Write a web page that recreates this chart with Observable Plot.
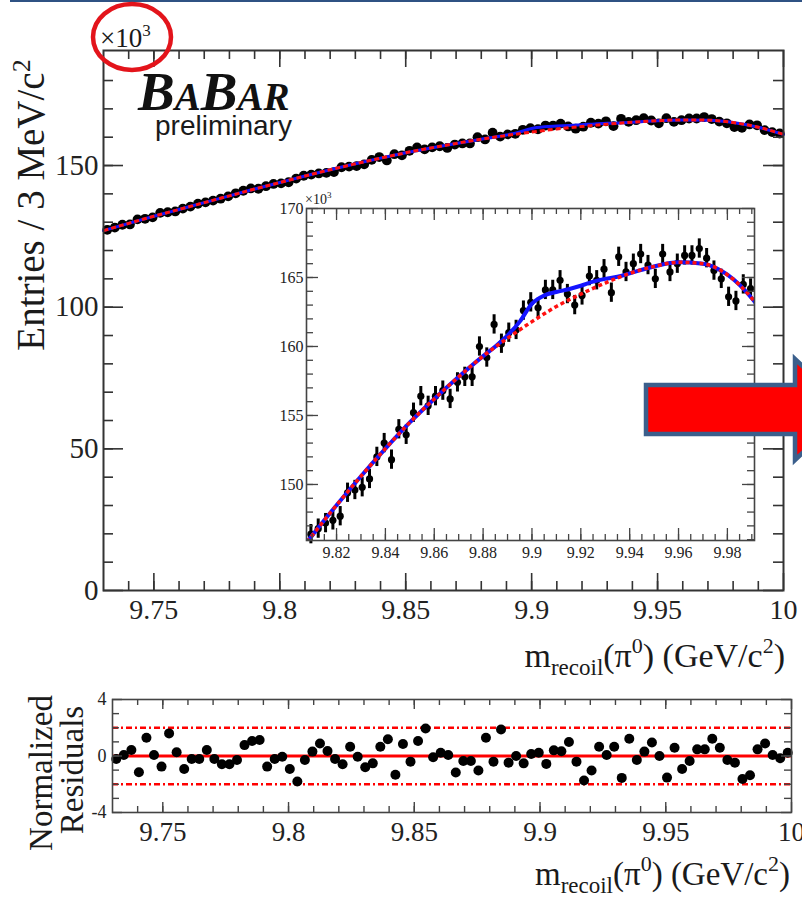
<!DOCTYPE html>
<html><head><meta charset="utf-8">
<script src="https://cdn.jsdelivr.net/npm/d3@7"></script>
<script src="https://cdn.jsdelivr.net/npm/@observablehq/plot@0.6"></script>
<style>
html,body{margin:0;padding:0;background:#fff;}
#wrap{position:relative;width:802px;height:901px;overflow:hidden;background:#fff;}
#wrap > svg{position:absolute;left:0;top:0;max-width:none;}
</style></head><body><div id="wrap"></div>
<script>
// ---- data (entries in units of 10^3 per 3 MeV/c^2 bin) ----
const binStart = 9.73, binWidth = 0.003;
const entries = [
  127.3, 128.1, 129.1, 129.2, 131.0, 131.2, 131.7, 133.3, 133.5, 133.8,
  134.8, 135.5, 136.5, 137.0, 137.6, 138.3, 139.1, 140.2, 141.1, 141.9,
  141.8, 142.7, 143.5, 143.7, 144.1, 145.4, 146.4, 146.8, 147.2, 147.4,
  147.7, 149.4, 149.6, 149.8, 150.4, 152.0, 153.0, 151.8, 154.0, 153.6,
  155.2, 156.4, 155.7, 156.4, 156.8, 156.2, 157.4, 157.8, 157.8, 160.0,
  159.2, 161.6, 160.2, 161.0, 161.2, 162.6, 163.2, 162.8, 164.1, 164.1,
  164.8, 163.8, 163.0, 163.7, 165.1, 164.8, 165.6, 163.9, 166.5, 165.4,
  166.0, 166.7, 165.9, 164.9, 166.7, 165.4, 166.0, 166.6, 166.6, 167.1,
  166.4, 165.5, 164.9, 163.6, 163.3, 164.5, 164.2, 162.5, 161.8, 161.3
];
const residuals = [
  -0.21, 0.07, 0.42, -1.15, 1.29, 0.07, -0.75, 1.60, 0.26, -0.92,
  -0.21, -0.21, 0.42, -0.21, -0.59, -0.59, -0.28, 0.77, 1.06, 1.13,
  -0.75, -0.21, -0.05, -0.92, -1.81, -0.28, 0.31, 0.89, 0.35, -0.21,
  -0.59, 0.66, -0.05, -0.80, -0.52, 0.66, 1.18, -1.33, 0.85, -0.40,
  1.06, 1.95, -0.09, 0.23, 0.07, -1.17, -0.35, -0.35, -1.03, 1.29,
  -0.40, 1.88, -0.47, 0.00, -0.52, 0.14, 0.23, -0.56, 0.40, 0.33,
  0.99, -0.40, -1.74, -1.03, 0.66, 0.07, 0.66, -1.55, 1.22, -0.28,
  0.31, 0.96, 0.00, -1.53, 0.59, -0.92, -0.35, 0.47, 0.47, 1.22,
  0.59, -0.28, -0.47, -1.63, -1.36, 0.47, 0.89, 0.07, -0.16, 0.23
];
const binError = 0.7;
// background fit (red dashed)
const fitBgMass = [9.73, 9.74, 9.75, 9.76, 9.77, 9.78, 9.79, 9.80, 9.81, 9.82, 9.83, 9.84, 9.85, 9.86,
  9.87, 9.88, 9.89, 9.90, 9.91, 9.92, 9.93, 9.94, 9.95, 9.96, 9.97, 9.98, 9.99, 10.0];
const fitBg = [127.0, 129.6, 132.1, 134.5, 136.9, 139.3, 141.7, 144.0, 146.3, 148.5, 150.6, 152.6, 154.5, 156.2,
  157.8, 159.3, 160.6, 161.8, 162.9, 163.8, 164.6, 165.3, 165.8, 166.1, 166.0, 165.2, 163.5, 161.0];
// total fit (blue) where it differs from background
const fitSigMass = [9.88, 9.885, 9.89, 9.895, 9.90, 9.905, 9.91, 9.915, 9.92, 9.925, 9.93, 9.935];
const fitTotalSig = [159.3, 160.0, 160.8, 161.8, 163.1, 163.7, 163.95, 164.15, 164.4, 164.7, 164.9, 165.05];
// tick labels
const mainXTicks = [9.75, 9.8, 9.85, 9.9, 9.95, 10];
const mainYTicks = [0, 50, 100, 150];
const insetXTicks = [9.82, 9.84, 9.86, 9.88, 9.9, 9.92, 9.94, 9.96, 9.98];
const insetYTicks = [150, 155, 160, 165, 170];
const resYTicks = [-4, 0, 4];
const resBands = [-2, 2];

// ---- derived tables ----
const bins = entries.map((v, k) => ({m: binStart + binWidth * (k + 0.5), v, r: residuals[k]}));
const bgRows = fitBgMass.map((m, i) => ({m, v: fitBg[i]}));
const lo = fitSigMass[0] - 1e-9, hi = fitSigMass[fitSigMass.length - 1] + 1e-9;
const totRows = bgRows.filter(d => d.m < lo || d.m > hi)
  .concat(fitSigMass.map((m, i) => ({m, v: fitTotalSig[i]})))
  .sort((a, b) => a.m - b.m);

const F = "Liberation Serif, 'Times New Roman', serif";
const fmt = d => String(d);

function frameTicks({xd, yd, W, H, xMaj, xMin, yMaj, yMin, xMajL, xMinL, yMajL, yMinL, stroke = "#333", sw = 1.5}) {
  const py = (yd[1] - yd[0]) / H, px = (xd[1] - xd[0]) / W;
  const out = [];
  for (const [arr, L] of [[xMin, xMinL], [xMaj, xMajL]]) {
    out.push(Plot.ruleX(arr, {x: d => d, y1: () => yd[0], y2: () => yd[0] + L * py, stroke, strokeWidth: sw}));
    out.push(Plot.ruleX(arr, {x: d => d, y1: () => yd[1], y2: () => yd[1] - L * py, stroke, strokeWidth: sw}));
  }
  for (const [arr, L] of [[yMin, yMinL], [yMaj, yMajL]]) {
    out.push(Plot.ruleY(arr, {y: d => d, x1: () => xd[0], x2: () => xd[0] + L * px, stroke, strokeWidth: sw}));
    out.push(Plot.ruleY(arr, {y: d => d, x1: () => xd[1], x2: () => xd[1] - L * px, stroke, strokeWidth: sw}));
  }
  return out;
}

const wrap = document.getElementById("wrap");
const W0 = 802, H0 = 901;

// ---- main plot ----
const mX = [9.73, 10.0], mY = [0, 190.6];
const mainPlot = Plot.plot({
  width: W0, height: H0, marginLeft: 103, marginRight: 19, marginTop: 50, marginBottom: 311,
  x: {domain: mX}, y: {domain: mY},
  style: {background: "transparent", color: "#222", fontFamily: F},
  marks: [
    Plot.dot(bins, {x: "m", y: "v", r: 4.9, fill: "#000", stroke: "none"}),
    Plot.line(totRows, {x: "m", y: "v", stroke: "#1414ff", strokeWidth: 3, curve: "monotone-x"}),
    Plot.line(bgRows, {x: "m", y: "v", stroke: "#ff1010", strokeWidth: 3, strokeDasharray: "5,3", strokeLinecap: "butt", curve: "monotone-x"}),
    ...frameTicks({xd: mX, yd: mY, W: 680, H: 540,
      xMaj: mainXTicks, xMin: d3.range(9.74, 9.995, 0.01), yMaj: mainYTicks, yMin: d3.range(10, 185, 10),
      xMajL: 17, xMinL: 9, yMajL: 20, yMinL: 10, stroke: "#333", sw: 1.6}),
    Plot.frame({stroke: "#333", strokeWidth: 2}),
    Plot.axisX({ticks: mainXTicks, tickSize: 0, tickPadding: 9, tickFormat: fmt, fontSize: 28, fontFamily: F, label: null}),
    Plot.axisY({ticks: mainYTicks, tickSize: 0, tickPadding: 5, tickFormat: fmt, fontSize: 29, fontFamily: F, label: null})
  ]
});
wrap.appendChild(mainPlot);

// ---- inset ----
const iX = [9.8077, 9.9911], iY = [145.94, 170];
const insetBins = bins.filter(d => d.m > iX[0] && d.m < iX[1]);
const insetPlot = Plot.plot({
  width: W0, height: H0, marginLeft: 306, marginRight: 48, marginTop: 208, marginBottom: 361,
  x: {domain: iX}, y: {domain: iY},
  style: {background: "transparent", color: "#222", fontFamily: F},
  marks: [
    Plot.ruleX(insetBins, {x: "m", y1: d => d.v - binError, y2: d => d.v + binError, stroke: "#000", strokeWidth: 3}),
    Plot.dot(insetBins, {x: "m", y: "v", r: 3.6, fill: "#000", stroke: "none"}),
    Plot.line(totRows, {x: "m", y: "v", stroke: "#1414ff", strokeWidth: 4, curve: "monotone-x", clip: true}),
    Plot.line(bgRows, {x: "m", y: "v", stroke: "#ff1010", strokeWidth: 3.5, strokeDasharray: "4,3", strokeLinecap: "butt", curve: "monotone-x", clip: true}),
    ...frameTicks({xd: iX, yd: iY, W: 448, H: 332,
      xMaj: insetXTicks, xMin: d3.range(9.81, 9.9905, 0.005), yMaj: insetYTicks, yMin: d3.range(146, 170, 1),
      xMajL: 12, xMinL: 6, yMajL: 12, yMinL: 7, stroke: "#444", sw: 1.3}),
    Plot.frame({stroke: "#444", strokeWidth: 1.6}),
    Plot.axisX({ticks: insetXTicks, tickSize: 0, tickPadding: 6, tickFormat: fmt, fontSize: 16, fontFamily: F, label: null}),
    Plot.axisY({ticks: insetYTicks, tickSize: 0, tickPadding: 3, tickFormat: fmt, fontSize: 16, fontFamily: F, label: null})
  ]
});
wrap.appendChild(insetPlot);

// ---- residuals ----
const rX = [9.73, 10.0], rY = [-4, 4];
const resPlot = Plot.plot({
  width: W0, height: H0, marginLeft: 112, marginRight: 11, marginTop: 699, marginBottom: 89,
  x: {domain: rX}, y: {domain: rY},
  style: {background: "transparent", color: "#222", fontFamily: F},
  marks: [
    Plot.ruleY([0], {stroke: "#ff0000", strokeWidth: 3}),
    Plot.ruleY(resBands, {stroke: "#ff0000", strokeWidth: 2.5, strokeDasharray: "6,3,2,3"}),
    Plot.dot(bins, {x: "m", y: "r", r: 5, fill: "#000", stroke: "none"}),
    ...frameTicks({xd: rX, yd: rY, W: 679, H: 113,
      xMaj: mainXTicks, xMin: d3.range(9.74, 9.995, 0.01), yMaj: resYTicks, yMin: d3.range(-3, 4, 1),
      xMajL: 10, xMinL: 6, yMajL: 10, yMinL: 7, stroke: "#444", sw: 1.4}),
    Plot.frame({stroke: "#444", strokeWidth: 1.6}),
    Plot.axisX({ticks: mainXTicks, tickSize: 0, tickPadding: 9, tickFormat: fmt, fontSize: 27, fontFamily: F, label: null}),
    Plot.axisY({ticks: resYTicks, tickSize: 0, tickPadding: 6, tickFormat: fmt, fontSize: 18, fontFamily: F, label: null})
  ]
});
wrap.appendChild(resPlot);

// ---- annotations overlay ----
const NS = "http://www.w3.org/2000/svg";
const ov = document.createElementNS(NS, "svg");
ov.setAttribute("width", W0); ov.setAttribute("height", H0);
ov.innerHTML = `
<line x1="10" y1="1" x2="802" y2="1" stroke="#2f5283" stroke-width="2"/>
<g font-family="${F}" fill="#1a1a1a">
  <text x="100" y="47" font-size="27">×10<tspan font-size="17" dy="-11">3</tspan></text>
  <text x="305" y="204" font-size="14">×10<tspan font-size="9" dy="-6">3</tspan></text>
  <text x="138" y="110" font-weight="bold" font-style="italic" fill="#111"><tspan font-size="55">B</tspan><tspan font-size="39">A</tspan><tspan font-size="55">B</tspan><tspan font-size="39">AR</tspan></text>
  <text transform="translate(44,205) rotate(-90)" text-anchor="middle" font-size="39">Entries / 3 MeV/c<tspan font-size="26" dy="-14">2</tspan></text>
  <text transform="translate(52,773) rotate(-90)" text-anchor="middle" font-size="33">Normalized</text>
  <text transform="translate(83,770) rotate(-90)" text-anchor="middle" font-size="33">Residuals</text>
  <text x="785" y="667" text-anchor="end" font-size="34">m<tspan font-size="23" dy="8">recoil</tspan><tspan dy="-8">(π</tspan><tspan font-size="22" dy="-14">0</tspan><tspan dy="14">) (GeV/c</tspan><tspan font-size="22" dy="-14">2</tspan><tspan dy="14">)</tspan></text>
  <text x="790" y="885" text-anchor="end" font-size="33">m<tspan font-size="23" dy="8">recoil</tspan><tspan dy="-8">(π</tspan><tspan font-size="22" dy="-14">0</tspan><tspan dy="14">) (GeV/c</tspan><tspan font-size="22" dy="-14">2</tspan><tspan dy="14">)</tspan></text>
</g>
<text x="155" y="135" font-family="Liberation Sans, Arial, sans-serif" font-size="28" fill="#1a1a1a">preliminary</text>
<ellipse cx="132" cy="37" rx="39" ry="33" fill="none" stroke="#e3141b" stroke-width="4.5"/>
<polygon points="646,385 795,385 795,359 848,409.5 795,460 795,434 646,434" fill="#ff0000" stroke="#3b5f8c" stroke-width="4.5" stroke-linejoin="miter"/>
`;
wrap.appendChild(ov);
</script></body></html>
